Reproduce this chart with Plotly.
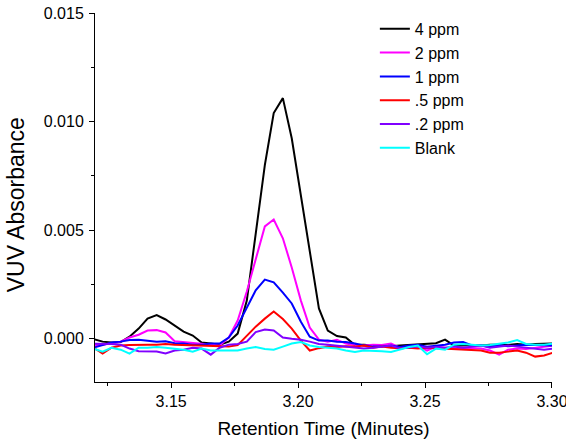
import plotly.graph_objects as go

# Retention time (minutes)
time_min = [3.1194, 3.1230, 3.1265, 3.1301, 3.1336, 3.1372, 3.1407, 3.1443, 3.1478, 3.1514,
            3.1549, 3.1585, 3.1620, 3.1656, 3.1691, 3.1727, 3.1762, 3.1798, 3.1833, 3.1869,
            3.1904, 3.1940, 3.1975, 3.2011, 3.2046, 3.2082, 3.2117, 3.2153, 3.2188, 3.2224,
            3.2259, 3.2295, 3.2330, 3.2366, 3.2401, 3.2437, 3.2472, 3.2508, 3.2543, 3.2579,
            3.2614, 3.2650, 3.2685, 3.2721, 3.2756, 3.2792, 3.2827, 3.2863, 3.2898, 3.2934,
            3.2969, 3.3005]

ppm4 = [-0.00002, -0.00014, -0.00018, -0.00016, 0.00009, 0.00046, 0.00092, 0.00108, 0.00088, 0.00060,
        0.00032, 0.00014, -0.00018, -0.00023, -0.00028, -0.00014, 0.00023, 0.00175, 0.00489, 0.00799,
        0.01039, 0.01108, 0.00923, 0.00660, 0.00397, 0.00139, 0.00037, 0.00012, 0.00005, -0.00030,
        -0.00028, -0.00032, -0.00032, -0.00035, -0.00032, -0.00030, -0.00028, -0.00025, -0.00021, -0.00005,
        -0.00032, -0.00032, -0.00030, -0.00032, -0.00028, -0.00028, -0.00030, -0.00025, -0.00028, -0.00025,
        -0.00023, -0.00023]

ppm2 = [-0.00032, -0.00028, -0.00023, -0.00014, 0.00005, 0.00018, 0.00037, 0.00039, 0.00028, -0.00012,
        -0.00016, -0.00018, -0.00023, -0.00028, -0.00032, 0.00005, 0.00083, 0.00217, 0.00369, 0.00517,
        0.00549, 0.00462, 0.00328, 0.00175, 0.00051, -0.00005, -0.00014, -0.00005, -0.00023, -0.00030,
        -0.00032, -0.00028, -0.00030, -0.00023, -0.00042, -0.00037, -0.00032, -0.00055, -0.00037, -0.00042,
        -0.00046, -0.00042, -0.00044, -0.00046, -0.00055, -0.00074, -0.00051, -0.00046, -0.00048, -0.00042,
        -0.00037, -0.00032]

ppm1 = [-0.00042, -0.00028, -0.00018, -0.00014, -0.00007, -0.00005, -0.00009, -0.00014, -0.00012, -0.00021,
        -0.00023, -0.00028, -0.00028, -0.00023, -0.00023, 0.00005, 0.00060, 0.00143, 0.00222, 0.00272,
        0.00259, 0.00212, 0.00162, 0.00078, 0.00009, -0.00009, -0.00009, -0.00014, -0.00016, -0.00023,
        -0.00032, -0.00037, -0.00037, -0.00032, -0.00039, -0.00032, -0.00028, -0.00037, -0.00032, -0.00028,
        -0.00018, -0.00016, -0.00032, -0.00032, -0.00037, -0.00030, -0.00035, -0.00032, -0.00028, -0.00030,
        -0.00032, -0.00032]

ppm05 = [-0.00042, -0.00069, -0.00042, -0.00032, -0.00030, -0.00028, -0.00028, -0.00028, -0.00025, -0.00028,
         -0.00030, -0.00032, -0.00032, -0.00035, -0.00037, -0.00037, -0.00030, 0.00014, 0.00055, 0.00092,
         0.00125, 0.00090, 0.00046, -0.00009, -0.00055, -0.00044, -0.00037, -0.00039, -0.00035, -0.00037,
         -0.00032, -0.00042, -0.00037, -0.00042, -0.00044, -0.00042, -0.00046, -0.00042, -0.00044, -0.00046,
         -0.00046, -0.00048, -0.00051, -0.00055, -0.00065, -0.00065, -0.00060, -0.00055, -0.00065, -0.00083,
         -0.00078, -0.00065]

ppm02 = [-0.00023, -0.00023, -0.00025, -0.00028, -0.00046, -0.00058, -0.00058, -0.00060, -0.00069, -0.00055,
         -0.00051, -0.00042, -0.00046, -0.00074, -0.00042, -0.00028, -0.00025, -0.00014, 0.00030, 0.00042,
         0.00037, 0.00005, -0.00001, -0.00005, -0.00014, -0.00025, -0.00028, -0.00032, -0.00037, -0.00042,
         -0.00046, -0.00042, -0.00037, -0.00032, -0.00046, -0.00042, -0.00037, -0.00042, -0.00039, -0.00042,
         -0.00037, -0.00042, -0.00037, -0.00032, -0.00042, -0.00037, -0.00032, -0.00037, -0.00042, -0.00046,
         -0.00051, -0.00046]

blank = [-0.00046, -0.00060, -0.00042, -0.00051, -0.00069, -0.00042, -0.00042, -0.00039, -0.00042, -0.00046,
         -0.00051, -0.00060, -0.00046, -0.00055, -0.00055, -0.00055, -0.00055, -0.00046, -0.00039, -0.00048,
         -0.00051, -0.00037, -0.00023, -0.00016, -0.00032, -0.00039, -0.00042, -0.00046, -0.00055, -0.00062,
         -0.00055, -0.00055, -0.00058, -0.00062, -0.00051, -0.00039, -0.00032, -0.00072, -0.00046, -0.00051,
         -0.00028, -0.00025, -0.00028, -0.00032, -0.00030, -0.00023, -0.00018, -0.00007, -0.00025, -0.00028,
         -0.00028, -0.00023]

series_names = ["4 ppm", "2 ppm", "1 ppm", ".5 ppm", ".2 ppm", "Blank"]
series_values = [ppm4, ppm2, ppm1, ppm05, ppm02, blank]
series_colors = ["#000000", "#FF00FF", "#0000FF", "#FF0000", "#8000FF", "#00FFFF"]

x_tick_vals = [3.15, 3.20, 3.25, 3.30]
x_tick_text = ["3.15", "3.20", "3.25", "3.30"]
y_tick_vals = [0.000, 0.005, 0.010, 0.015]
y_tick_text = ["0.000", "0.005", "0.010", "0.015"]

FONT = "Arial, 'Liberation Sans', sans-serif"

fig = go.Figure()
for name, vals, col in zip(series_names, series_values, series_colors):
    fig.add_trace(go.Scatter(x=time_min, y=vals, mode="lines", name=name,
                             line=dict(color=col, width=2)))

fig.update_layout(
    width=566, height=444, autosize=False,
    margin=dict(l=95, r=14, t=13, b=62, autoexpand=False),
    paper_bgcolor="white", plot_bgcolor="white",
    font=dict(family=FONT, color="#000000", size=16),
    showlegend=True,
    legend=dict(x=0.6124, y=1.003, xanchor="left", yanchor="top",
                bgcolor="rgba(0,0,0,0)", font=dict(size=16, family=FONT)),
    annotations=[dict(text="VUV Absorbance", textangle=-90, showarrow=False,
                      xref="paper", yref="paper", x=-0.1727, y=0.479,
                      xanchor="center", yanchor="middle",
                      font=dict(size=23, family=FONT, color="#000000"))],
)
fig.update_xaxes(
    range=[3.12, 3.30002], showgrid=False, zeroline=False, automargin=False,
    showline=True, linecolor="black", linewidth=1, mirror=False,
    ticks="outside", ticklen=5, tickcolor="black", ticklabeloverflow="allow",
    tickvals=x_tick_vals, ticktext=x_tick_text,
    tickfont=dict(size=16, family=FONT),
    minor=dict(ticks="outside", ticklen=3, tickcolor="black", dtick=0.025, tick0=3.125),
    title=dict(text="Retention Time (Minutes)", font=dict(size=19, family=FONT), standoff=12),
)
fig.update_yaxes(
    range=[-0.002, 0.015002], showgrid=False, zeroline=False, automargin=False,
    showline=True, linecolor="black", linewidth=1, mirror=False,
    ticks="outside", ticklen=5, tickcolor="black", ticklabelstandoff=2,
    ticklabeloverflow="allow",
    tickvals=y_tick_vals, ticktext=y_tick_text,
    tickfont=dict(size=16, family=FONT),
    minor=dict(ticks="outside", ticklen=3, tickcolor="black", dtick=0.0025, tick0=0.0025),
)

# Remove the default page margin so the figure sits at the window's corner.
fig.write_html("out.html",
               config={"displayModeBar": False},
               post_script="document.body.style.margin='0';document.body.style.overflow='hidden';")
